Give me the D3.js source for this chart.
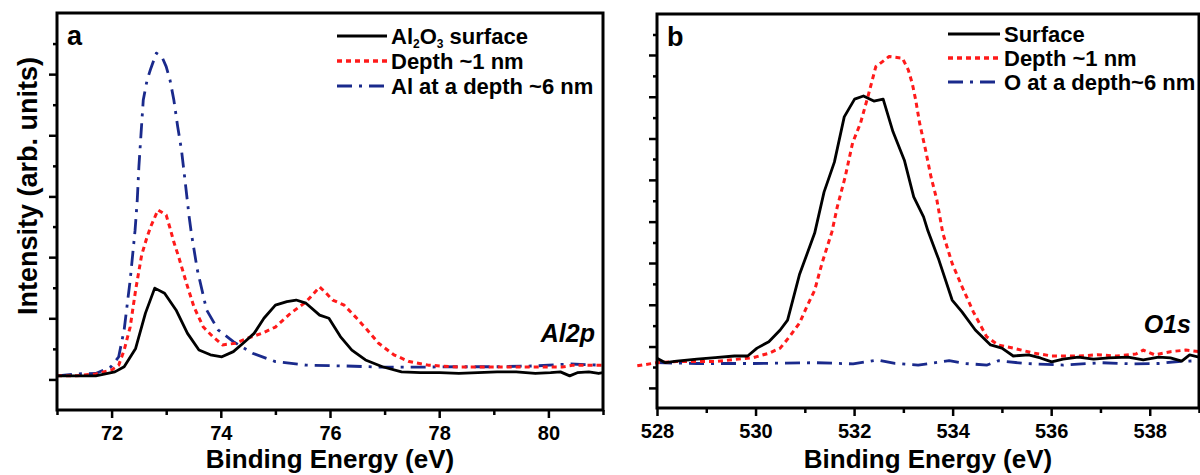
<!DOCTYPE html>
<html>
<head>
<meta charset="utf-8">
<script src="https://cdn.jsdelivr.net/npm/d3@7"></script>
<style>
  body { margin: 0; background: #fff; }
  svg { display: block; font-family: "Liberation Sans", Arial, sans-serif; }
</style>
</head>
<body>
<div id="chart"></div>
<script>
// Panel a, Al2p: [binding energy (eV), intensity (arb. units)]
const al2pSurface = [
    [71.0, 8.6], [71.4, 8.6], [71.71, 8.6], [72.06, 9.6], [72.23, 10.9], [72.44, 15.5],
    [72.62, 24.4], [72.79, 30.7], [72.97, 29.4], [73.18, 25.2], [73.39, 19.3], [73.6, 15.1],
    [73.81, 13.9], [74.02, 13.4], [74.23, 14.7], [74.44, 17.2], [74.61, 19.3], [74.79, 23.1],
    [75.0, 26.4], [75.21, 27.3], [75.38, 27.7], [75.56, 26.9], [75.81, 23.9], [75.98, 23.1],
    [76.19, 18.5], [76.4, 15.1], [76.65, 12.6], [76.96, 10.9], [77.31, 9.6], [77.66, 9.4],
    [78.01, 9.4], [78.36, 9.2], [78.71, 9.4], [79.06, 9.6], [79.41, 9.6], [79.76, 9.2],
    [80.04, 9.4], [80.22, 9.6], [80.39, 8.6], [80.53, 9.4], [80.74, 9.6], [80.92, 9.2], [81.0, 9.4]
];
const al2pDepth1 = [
    [71.0, 8.6], [71.36, 8.6], [71.71, 9.1], [72.0, 10.1], [72.13, 11.3], [72.23, 15.1],
    [72.34, 20.9], [72.44, 30.2], [72.55, 39.0], [72.65, 43.6], [72.72, 46.3], [72.85, 50.4],
    [73.0, 49.1], [73.07, 45.8], [73.14, 42.3], [73.23, 38.5], [73.37, 32.0], [73.51, 25.9],
    [73.68, 20.9], [73.86, 18.4], [74.03, 16.4], [74.27, 16.8], [74.49, 18.1], [74.77, 19.4],
    [75.0, 20.9], [75.28, 24.4], [75.56, 27.2], [75.81, 31.0], [75.91, 29.7], [76.05, 27.7],
    [76.26, 26.4], [76.47, 23.4], [76.68, 20.2], [76.89, 16.8], [77.17, 13.9], [77.45, 12.2],
    [77.8, 11.3], [78.36, 10.8], [79.06, 10.8], [79.76, 10.8], [80.25, 10.8], [80.46, 11.3], [81.0, 11.3]
];
const al2pDepth6 = [
    [71.0, 8.6], [71.36, 9.1], [71.71, 9.2], [71.99, 10.9], [72.13, 13.4], [72.23, 20.2],
    [72.34, 32.7], [72.43, 45.3], [72.47, 52.9], [72.5, 61.3], [72.54, 69.8], [72.58, 78.1],
    [72.65, 83.1], [72.72, 86.1], [72.82, 89.9], [72.92, 89.0], [73.0, 86.5], [73.07, 83.1],
    [73.14, 78.1], [73.21, 71.4], [73.28, 65.5], [73.35, 57.2], [73.42, 48.7], [73.46, 44.6],
    [73.57, 35.3], [73.74, 25.2], [73.95, 20.2], [74.23, 17.2], [74.58, 14.3], [75.0, 12.2],
    [75.56, 11.3], [76.26, 11.1], [76.96, 10.8], [77.66, 10.8], [78.36, 10.9], [79.06, 10.9],
    [79.76, 11.1], [80.39, 11.6], [80.92, 11.3], [81.0, 11.3]
];

// Panel b, O1s
const o1sSurface = [
    [528.0, 12.6], [528.17, 11.5], [528.4, 11.9], [528.81, 12.4], [529.18, 12.8], [529.57, 13.2],
    [529.84, 13.2], [530.03, 15.2], [530.27, 16.8], [530.5, 19.8], [530.65, 22.3], [530.89, 33.8],
    [531.2, 44.4], [531.39, 54.8], [531.6, 62.4], [531.8, 73.9], [532.01, 78.4], [532.19, 79.2],
    [532.4, 77.9], [532.59, 78.4], [532.79, 70.1], [533.02, 62.9], [533.21, 53.6], [533.41, 48.5],
    [533.5, 44.9], [533.72, 37.6], [533.99, 27.4], [534.19, 24.4], [534.46, 19.8], [534.77, 16.0],
    [535.0, 15.2], [535.23, 13.2], [535.54, 13.5], [535.78, 12.7], [536.01, 11.7], [536.24, 12.4],
    [536.55, 12.9], [536.86, 12.4], [537.17, 12.7], [537.56, 12.9], [537.87, 12.2], [538.18, 12.9],
    [538.42, 12.7], [538.65, 11.9], [538.81, 13.5], [539.0, 12.9]
];
const o1sDepth1 = [
    [527.6, 10.7], [528.0, 11.5], [528.4, 11.8], [529.18, 11.8], [529.96, 12.8], [530.27, 13.9],
    [530.5, 15.2], [530.69, 18.1], [530.89, 21.5], [531.04, 25.7], [531.2, 29.9], [531.35, 36.8],
    [531.55, 44.7], [531.66, 51.1], [531.82, 58.7], [531.97, 67.3], [532.13, 72.3], [532.28, 79.0],
    [532.44, 86.6], [532.71, 89.2], [532.98, 88.8], [533.1, 85.8], [533.18, 82.4], [533.25, 78.2],
    [533.33, 72.3], [533.45, 65.5], [533.56, 58.7], [533.68, 52.8], [533.8, 44.4], [533.99, 36.7],
    [534.19, 30.8], [534.42, 24.4], [534.69, 18.1], [534.92, 16.0], [535.23, 15.2], [535.62, 14.0],
    [536.01, 13.2], [536.55, 13.2], [536.94, 13.5], [537.33, 13.2], [537.72, 13.7], [537.87, 14.7],
    [538.1, 13.5], [538.42, 14.3], [538.73, 14.7], [539.0, 14.3]
];
const o1sDepth6 = [
    [528.0, 11.5], [528.81, 11.3], [529.96, 11.3], [531.2, 11.5], [531.98, 11.2], [532.48, 12.2],
    [532.83, 11.3], [533.3, 10.9], [533.93, 12.0], [534.24, 11.3], [534.7, 10.9], [534.93, 12.0],
    [535.47, 11.3], [536.25, 10.9], [537.02, 11.5], [537.64, 11.2], [538.19, 11.3], [538.58, 11.8],
    [539.0, 12.0]
];

// ticks
const xMajorA = [72, 74, 76, 78, 80];
const xMinorA = [71, 73, 75, 77, 79, 81];
const xMajorB = [528, 530, 532, 534, 536, 538];
const xMinorB = [529, 531, 533, 535, 537, 539];
const yMajorA = [7.7, 23.1, 38.5, 53.8, 69.2, 84.6];
const yMinorA = [15.4, 30.8, 46.2, 61.5, 76.9, 92.3];
const yMajorB = [5.1, 15.6, 26.2, 36.8, 47.3, 57.9, 68.4, 79.0, 89.6];
const yMinorB = [10.4, 20.9, 31.5, 42.0, 52.6, 63.2, 73.7, 84.3, 94.8];

// "_2" marks a subscript digit
const legendA = ['Al_2O_3 surface', 'Depth ~1 nm', 'Al at a depth ~6 nm'];
const legendB = ['Surface', 'Depth ~1 nm', 'O at a depth~6 nm'];

const styles = [
    { color: '#000000', dash: null, width: 2.8 },
    { color: '#ff1a1a', dash: '5,4', width: 3 },
    { color: '#1a2a8c', dash: '15,7,3,7', width: 2.8 }
];

const svg = d3.select('#chart').append('svg')
    .attr('width', 1200)
    .attr('height', 475);

svg.append('rect').attr('width', 1200).attr('height', 475).attr('fill', '#fff');

function drawPanel(cfg) {
    const x = d3.scaleLinear().domain(cfg.xDomain).range(cfg.xRange);
    const y = d3.scaleLinear().domain([0, 100]).range(cfg.yRange);
    const g = svg.append('g');
    const [x0, x1] = cfg.xRange;
    const [yb, yt] = cfg.yRange;

    const clipId = 'clip-' + cfg.name;
    g.append('clipPath').attr('id', clipId)
        .append('rect').attr('x', x0).attr('y', yt).attr('width', x1 - x0).attr('height', yb - yt);

    // axes
    const styleAxis = sel => {
        sel.select('.domain').remove();
        sel.selectAll('line').attr('stroke', '#000').attr('stroke-width', 2.5);
        sel.selectAll('text')
            .style('font-size', '20px')
            .style('font-weight', 'bold')
            .attr('fill', '#000');
    };

    g.append('g')
        .attr('transform', `translate(0,${yb})`)
        .call(d3.axisBottom(x).tickValues(cfg.xMajor).tickSize(8).tickPadding(8).tickFormat(d3.format('d')))
        .call(styleAxis);
    g.append('g')
        .attr('transform', `translate(0,${yb})`)
        .call(d3.axisBottom(x).tickValues(cfg.xMinor).tickSize(5).tickFormat(''))
        .call(styleAxis);
    g.append('g')
        .attr('transform', `translate(${x0},0)`)
        .call(d3.axisLeft(y).tickValues(cfg.yMajor).tickSize(8).tickFormat(''))
        .call(styleAxis);
    g.append('g')
        .attr('transform', `translate(${x0},0)`)
        .call(d3.axisLeft(y).tickValues(cfg.yMinor).tickSize(4).tickFormat(''))
        .call(styleAxis);

    // curves
    const line = d3.line().x(d => x(d[0])).y(d => y(d[1]));
    [2, 1, 0].forEach(i => {
        const s = styles[i];
        const p = g.append('path')
            .datum(cfg.series[i])
            .attr('fill', 'none')
            .attr('stroke', s.color)
            .attr('stroke-width', s.width)
            .attr('stroke-linejoin', 'round')
            .attr('d', line);
        if (s.dash) p.attr('stroke-dasharray', s.dash);
        if (!(cfg.unclipped || []).includes(i)) p.attr('clip-path', `url(#${clipId})`);
    });

    // frame
    g.append('rect')
        .attr('x', x0).attr('y', yt)
        .attr('width', x1 - x0).attr('height', yb - yt)
        .attr('fill', 'none').attr('stroke', '#000').attr('stroke-width', 3);

    // panel letter
    g.append('text')
        .attr('x', x0 + 10).attr('y', yt + 32)
        .style('font-size', '27px').style('font-weight', 'bold')
        .text(cfg.letter);

    // core level label
    g.append('text')
        .attr('x', x1 - 8).attr('y', cfg.coreY)
        .attr('text-anchor', 'end')
        .style('font-size', '25px').style('font-weight', 'bold').style('font-style', 'italic')
        .text(cfg.core);

    // x title
    g.append('text')
        .attr('x', (x0 + x1) / 2).attr('y', 468)
        .attr('text-anchor', 'middle')
        .style('font-size', '26px').style('font-weight', 'bold')
        .text('Binding Energy (eV)');

    // legend
    cfg.legend.forEach((label, i) => {
        const ly = cfg.legendPos[1] + i * cfg.legendStep;
        const s = styles[i];
        const l = g.append('line')
            .attr('x1', cfg.legendPos[0]).attr('x2', cfg.legendPos[0] + cfg.legendLen)
            .attr('y1', ly).attr('y2', ly)
            .attr('stroke', s.color).attr('stroke-width', s.width + 0.4);
        if (s.dash) l.attr('stroke-dasharray', s.dash);
        const t = g.append('text')
            .attr('x', cfg.legendPos[0] + cfg.legendLen + 4)
            .attr('y', ly + 8)
            .style('font-size', '22px').style('font-weight', 'bold');
        let shifted = false;
        label.split(/_(\d)/).forEach((part, k) => {
            if (!part) return;
            if (k % 2 === 1) {
                t.append('tspan').attr('dy', shifted ? 0 : 4).style('font-size', '12px').text(part);
                shifted = true;
            } else {
                t.append('tspan').attr('dy', shifted ? -4 : 0).text(part);
                shifted = false;
            }
        });
    });
}

drawPanel({
    name: 'a', letter: 'a', core: 'Al2p', coreY: 342,
    xDomain: [71, 81], xRange: [57, 603], yRange: [410, 13],
    xMajor: xMajorA, xMinor: xMinorA, yMajor: yMajorA, yMinor: yMinorA,
    series: [al2pSurface, al2pDepth1, al2pDepth6],
    legend: legendA, legendPos: [337, 36], legendStep: 25, legendLen: 50
});

drawPanel({
    name: 'b', letter: 'b', core: 'O1s', coreY: 333,
    xDomain: [528, 539], xRange: [657, 1199], yRange: [408, 14],
    xMajor: xMajorB, xMinor: xMinorB, yMajor: yMajorB, yMinor: yMinorB,
    series: [o1sSurface, o1sDepth1, o1sDepth6], unclipped: [1],
    legend: legendB, legendPos: [948, 34], legendStep: 24, legendLen: 52
});

// y title (panel a only)
svg.append('text')
    .attr('transform', 'translate(37,186) rotate(-90)')
    .attr('text-anchor', 'middle')
    .style('font-size', '27px').style('font-weight', 'bold')
    .text('Intensity (arb. units)');
</script>
</body>
</html>
